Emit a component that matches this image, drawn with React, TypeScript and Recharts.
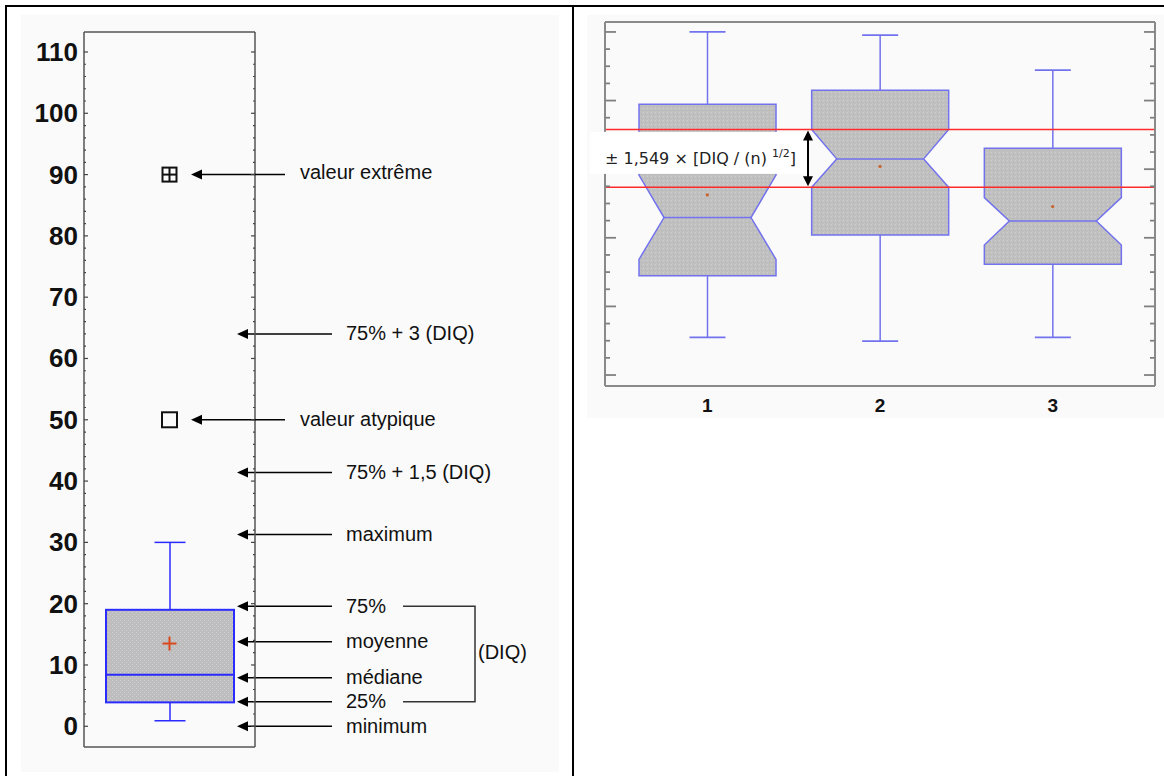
import React from 'react'
import {
  ComposedChart, Bar, Scatter, XAxis, YAxis, ReferenceLine, ReferenceArea,
} from 'recharts'

const FONT = '"Liberation Sans", Arial, sans-serif'

// ---- left panel : one annotated box plot ----
const leftCategories = ['A']
const leftMin = [0.9]
const leftQ1 = [3.9]
const leftMedian = [8.4]
const leftMean = [13.5]
const leftQ3 = [19]
const leftMax = [30]
const leftOutlier = [50]
const leftExtreme = [90]
const leftDomain = [-3.38, 113.26]
const leftTicks = [0, 2, 4, 6, 8, 10, 12, 14, 16, 18, 20, 22, 24, 26, 28, 30, 32, 34, 36, 38, 40, 42, 44, 46, 48, 50, 52, 54, 56, 58, 60, 62, 64, 66, 68, 70, 72, 74, 76, 78, 80, 82, 84, 86, 88, 90, 92, 94, 96, 98, 100, 102, 104, 106, 108, 110]

const noteLabels = ['75% + 3 (DIQ)', '75% + 1,5 (DIQ)', 'maximum', '75%', 'moyenne', 'médiane', '25%', 'minimum']
const noteValues = [64, 41.4, 31.3, 19.6, 13.8, 7.9, 4, 0]
const diqFrom = 4
const diqTo = 19.6

// ---- right panel : three notched box plots ----
const groups = ['1', '2', '3']
const whiskerLow = [11.0, 9.9, 11.0]
const quart1 = [28.9, 40.8, 32.3]
const notchLow = [33.7, 54.7, 37.9]
const medians = [45.9, 63.0, 44.9]
const notchHigh = [58.3, 71.6, 51.7]
const quart3 = [78.9, 83.0, 66.1]
const whiskerHigh = [100, 99.1, 88.9]
const means = [52.5, 60.8, 49.1]
const rightDomain = [-3.2, 102.9]
const rightTicks = [0, 5, 10, 15, 20, 25, 30, 35, 40, 45, 50, 55, 60, 65, 70, 75, 80, 85, 90, 95, 100]
const redLines = [71.6, 54.7]

const leftRows = leftCategories.map((c, i) => ({
  cat: c,
  range: [leftMin[i], leftMax[i]],
  q1: leftQ1[i],
  median: leftMedian[i],
  q3: leftQ3[i],
  mean: leftMean[i],
  outlier: leftOutlier[i],
  extreme: leftExtreme[i],
}))

const rightRows = groups.map((g, i) => ({
  grp: g,
  range: [whiskerLow[i], whiskerHigh[i]],
  q1: quart1[i],
  nLo: notchLow[i],
  median: medians[i],
  nHi: notchHigh[i],
  q3: quart3[i],
  mean: means[i],
}))

// pixel mapping inside a range bar: reuse the bar's own extent
function mapper(props: any) {
  const top = Math.min(props.y, props.y + props.height)
  const bottom = Math.max(props.y, props.y + props.height)
  const [lo, hi] = props.payload.range
  return (v: number) => bottom - ((v - lo) / (hi - lo)) * (bottom - top)
}

function Arrow({ tip, tail, y }: { tip: number; tail: number; y: number }) {
  return (
    <g>
      <line x1={tip + 8} y1={y} x2={tail} y2={y} stroke="#000" strokeWidth={1.5} />
      <polygon points={`${tip},${y} ${tip + 11},${y - 5} ${tip + 11},${y + 5}`} fill="#000" />
    </g>
  )
}

function PlainBox(props: any) {
  const { x, width, payload } = props
  const py = mapper(props)
  const cx = x + width / 2
  const blue = '#2b2bff'
  return (
    <g>
      <line x1={cx} y1={py(payload.q3)} x2={cx} y2={py(payload.range[1])} stroke={blue} strokeWidth={1.5} />
      <line x1={cx - 15.5} y1={py(payload.range[1])} x2={cx + 15.5} y2={py(payload.range[1])} stroke={blue} strokeWidth={1.5} />
      <line x1={cx} y1={py(payload.q1)} x2={cx} y2={py(payload.range[0])} stroke={blue} strokeWidth={1.5} />
      <line x1={cx - 15.5} y1={py(payload.range[0])} x2={cx + 15.5} y2={py(payload.range[0])} stroke={blue} strokeWidth={1.5} />
      <rect x={x} y={py(payload.q3)} width={width} height={py(payload.q1) - py(payload.q3)} fill="url(#grainL)" stroke={blue} strokeWidth={2} />
      <line x1={x} y1={py(payload.median)} x2={x + width} y2={py(payload.median)} stroke={blue} strokeWidth={2} />
    </g>
  )
}

function NotchedBox(props: any) {
  const { x, width, payload } = props
  const py = mapper(props)
  const cx = x + width / 2
  const l = x
  const r = x + width
  const li = x + 25
  const ri = x + width - 25
  const pts = [
    [l, py(payload.q3)], [r, py(payload.q3)], [r, py(payload.nHi)], [ri, py(payload.median)],
    [r, py(payload.nLo)], [r, py(payload.q1)], [l, py(payload.q1)], [l, py(payload.nLo)],
    [li, py(payload.median)], [l, py(payload.nHi)],
  ].map((p) => p.join(',')).join(' ')
  const stroke = '#7272ee'
  return (
    <g>
      <line x1={cx} y1={py(payload.q3)} x2={cx} y2={py(payload.range[1])} stroke={stroke} strokeWidth={1.5} />
      <line x1={cx - 18} y1={py(payload.range[1])} x2={cx + 18} y2={py(payload.range[1])} stroke={stroke} strokeWidth={1.8} />
      <line x1={cx} y1={py(payload.q1)} x2={cx} y2={py(payload.range[0])} stroke={stroke} strokeWidth={1.5} />
      <line x1={cx - 18} y1={py(payload.range[0])} x2={cx + 18} y2={py(payload.range[0])} stroke={stroke} strokeWidth={1.8} />
      <polygon points={pts} fill="url(#grainR)" stroke={stroke} strokeWidth={1.5} />
      <line x1={li} y1={py(payload.median)} x2={ri} y2={py(payload.median)} stroke={stroke} strokeWidth={1.5} />
    </g>
  )
}

function MeanPlus({ cx, cy }: any) {
  return (
    <g stroke="#d9481c" strokeWidth={2}>
      <line x1={cx - 7} y1={cy} x2={cx + 7} y2={cy} />
      <line x1={cx} y1={cy - 7} x2={cx} y2={cy + 7} />
    </g>
  )
}

function MeanDot({ cx, cy }: any) {
  return <circle cx={cx} cy={cy} r={1.6} fill="#c8642d" />
}

function OutlierMark({ cx, cy }: any) {
  return (
    <g>
      <rect x={cx - 7.5} y={cy - 7.5} width={15} height={15} fill="none" stroke="#111" strokeWidth={2} />
      <Arrow tip={cx + 21.5} tail={cx + 115.5} y={cy} />
      <text x={cx + 130.5} y={cy + 6} fontSize={20} fontFamily={FONT} fill="#111">valeur atypique</text>
    </g>
  )
}

function ExtremeMark({ cx, cy }: any) {
  return (
    <g>
      <rect x={cx - 7} y={cy - 7} width={14} height={14} fill="none" stroke="#111" strokeWidth={2} />
      <line x1={cx - 7} y1={cy} x2={cx + 7} y2={cy} stroke="#111" strokeWidth={2} />
      <line x1={cx} y1={cy - 7} x2={cx} y2={cy + 7} stroke="#111" strokeWidth={2} />
      <Arrow tip={cx + 21.5} tail={cx + 115.5} y={cy} />
      <text x={cx + 130.5} y={cy + 4} fontSize={20} fontFamily={FONT} fill="#111">valeur extrême</text>
    </g>
  )
}

function AxisNote(props: any) {
  const { viewBox, text } = props
  const right = viewBox.x + viewBox.width
  const y = viewBox.y
  return (
    <g>
      <Arrow tip={right - 18} tail={right + 77} y={y} />
      <text x={right + 91} y={y + 6.5} fontSize={20} fontFamily={FONT} fill="#111">{text}</text>
    </g>
  )
}

function DiqBracket(props: any) {
  const { x, y, width, height } = props
  const r = x + width
  return (
    <g>
      <path d={`M${r + 148},${y} H${r + 220} V${y + height} H${r + 148}`} fill="none" stroke="#333" strokeWidth={1.5} />
      <text x={r + 223} y={y + height / 2 + 5} fontSize={20} fontFamily={FONT} fill="#111">(DIQ)</text>
    </g>
  )
}

// viewBox.x sits at the padded start of the category range (16px inside the frame)
function DiqFormula(props: any) {
  const { x, y, height } = props.viewBox
  const left = x - 16
  const ax = left + 203
  const b = y + height
  return (
    <g>
      <rect x={left - 15} y={y + 2.5} width={218} height={42} fill="#fff" />
      <text x={left} y={y + 35} fontSize={16} fontFamily='"DejaVu Sans", sans-serif' fill="#222">
        ± 1,549 × [DIQ / (n) <tspan dy={-7} fontSize={11}>1/2</tspan><tspan dy={7}>]</tspan>
      </text>
      <line x1={ax} y1={y + 8} x2={ax} y2={b - 8} stroke="#000" strokeWidth={2} />
      <polygon points={`${ax},${y + 1} ${ax - 5},${y + 11} ${ax + 5},${y + 11}`} fill="#000" />
      <polygon points={`${ax},${b - 1} ${ax - 5},${b - 11} ${ax + 5},${b - 11}`} fill="#000" />
    </g>
  )
}

// left-axis tick that also marks the opposite frame side (span = plot width)
function LeftPanelTick(props: any) {
  const { x, y, payload, span } = props
  const major = payload.value % 10 === 0
  const len = major ? 4 : 2
  return (
    <g>
      <line x1={x} y1={y} x2={x + len} y2={y} stroke="#444" strokeWidth={1.2} />
      <line x1={x + span} y1={y} x2={x + span - len} y2={y} stroke="#444" strokeWidth={1.2} />
      {major && (
        <text x={x - 6} y={y + 9} textAnchor="end" fontSize={26} fontWeight="bold" fontFamily={FONT} fill="#111">
          {payload.value}
        </text>
      )}
    </g>
  )
}

function RightPanelTick(props: any) {
  const { x, y, payload, span } = props
  const len = payload.value % 20 === 0 ? 11 : 5
  return (
    <g stroke="#808080" strokeWidth={1.8}>
      <line x1={x} y1={y} x2={x + len} y2={y} />
      <line x1={x + span} y1={y} x2={x + span - len} y2={y} />
    </g>
  )
}

function Grain() {
  return (
    <defs>
      <pattern id="grainL" width="4" height="4" patternUnits="userSpaceOnUse">
        <rect width="4" height="4" fill="#bdbdbd" />
        <rect width="1" height="1" fill="#d2d0da" />
        <rect x="2" y="2" width="1" height="1" fill="#cfcfd4" />
      </pattern>
      <pattern id="grainR" width="4" height="4" patternUnits="userSpaceOnUse">
        <rect width="4" height="4" fill="#c0c0c0" />
        <rect width="1" height="1" fill="#d0d0d0" />
        <rect x="2" y="2" width="1" height="1" fill="#b4b4b4" />
      </pattern>
    </defs>
  )
}

export default function App() {
  return (
    <div style={{ position: 'relative', width: 1164, height: 776, background: '#fff', overflow: 'hidden' }}>
      <style>{'body{margin:0}'}</style>
      <div style={{ position: 'absolute', left: 21, top: 15, width: 538, height: 757, background: '#fafafa' }} />
      <div style={{ position: 'absolute', left: 587, top: 15, width: 577, height: 403, background: '#fafafa' }} />
      <div style={{ position: 'absolute', left: 5, top: 5, width: 1159, height: 2, background: '#000' }} />
      <div style={{ position: 'absolute', left: 5, top: 5, width: 2, height: 771, background: '#000' }} />
      <div style={{ position: 'absolute', left: 572, top: 5, width: 2, height: 771, background: '#000' }} />

      <div style={{ position: 'absolute', left: 0, top: 0 }}>
        <ComposedChart width={572} height={776} data={leftRows} margin={{ top: 31, right: 316, bottom: 28, left: 0 }}>
          <Grain />
          <XAxis dataKey="cat" height={1} tick={false} tickLine={false} axisLine={{ stroke: '#555', strokeWidth: 1.5 }} />
          <XAxis xAxisId="top" orientation="top" height={1} tick={false} tickLine={false} axisLine={{ stroke: '#555', strokeWidth: 1.5 }} />
          <YAxis
            type="number" domain={leftDomain} ticks={leftTicks} interval={0} width={84}
            tickSize={0} tickMargin={0} tickLine={false} tick={<LeftPanelTick span={171} />}
            axisLine={{ stroke: '#555', strokeWidth: 1.5 }}
          />
          <YAxis
            yAxisId="r" orientation="right" type="number" domain={leftDomain} width={1}
            tick={false} tickLine={false} axisLine={{ stroke: '#555', strokeWidth: 1.5 }}
          />
          <Bar dataKey="range" barSize={128} shape={(p: any) => <PlainBox {...p} />} isAnimationActive={false} />
          <Scatter dataKey="mean" shape={(p: any) => <MeanPlus {...p} />} isAnimationActive={false} />
          <Scatter dataKey="outlier" shape={(p: any) => <OutlierMark {...p} />} isAnimationActive={false} />
          <Scatter dataKey="extreme" shape={(p: any) => <ExtremeMark {...p} />} isAnimationActive={false} />
          {noteValues.map((v, i) => (
            <ReferenceLine key={noteLabels[i]} y={v} stroke="none" label={<AxisNote text={noteLabels[i]} />} />
          ))}
          <ReferenceArea y1={diqFrom} y2={diqTo} shape={(p: any) => <DiqBracket {...p} />} />
        </ComposedChart>
      </div>

      <div style={{ position: 'absolute', left: 575, top: 0 }}>
        <ComposedChart width={589} height={430} data={rightRows} margin={{ top: 21, right: 8, bottom: 14, left: 29 }}>
          <Grain />
          <XAxis
            dataKey="grp" height={30} padding={{ left: 16, right: 16 }} tickLine={false} tickSize={0} tickMargin={12.5}
            tick={{ fontSize: 19, fontWeight: 'bold', fill: '#111', fontFamily: FONT }}
            axisLine={{ stroke: '#8a8a8a', strokeWidth: 2 }}
          />
          <XAxis xAxisId="top" orientation="top" height={1} tick={false} tickLine={false} axisLine={{ stroke: '#8a8a8a', strokeWidth: 2 }} />
          <YAxis
            type="number" domain={rightDomain} ticks={rightTicks} interval={0} width={1}
            tickSize={0} tickMargin={0} tickLine={false} tick={<RightPanelTick span={550} />}
            axisLine={{ stroke: '#8a8a8a', strokeWidth: 2 }}
          />
          <YAxis
            yAxisId="r" orientation="right" type="number" domain={rightDomain} width={1}
            tick={false} tickLine={false} axisLine={{ stroke: '#8a8a8a', strokeWidth: 2 }}
          />
          <Bar dataKey="range" barSize={137} shape={(p: any) => <NotchedBox {...p} />} isAnimationActive={false} />
          <Scatter dataKey="mean" shape={(p: any) => <MeanDot {...p} />} isAnimationActive={false} />
          {redLines.map((v) => (
            <ReferenceLine key={v} y={v} stroke="#ff2a2a" strokeWidth={1.5} />
          ))}
          <ReferenceArea {...({ zIndex: 2000 } as any)} y1={redLines[1]} y2={redLines[0]} fill="none" stroke="none" label={<DiqFormula />} />
        </ComposedChart>
      </div>
    </div>
  )
}
